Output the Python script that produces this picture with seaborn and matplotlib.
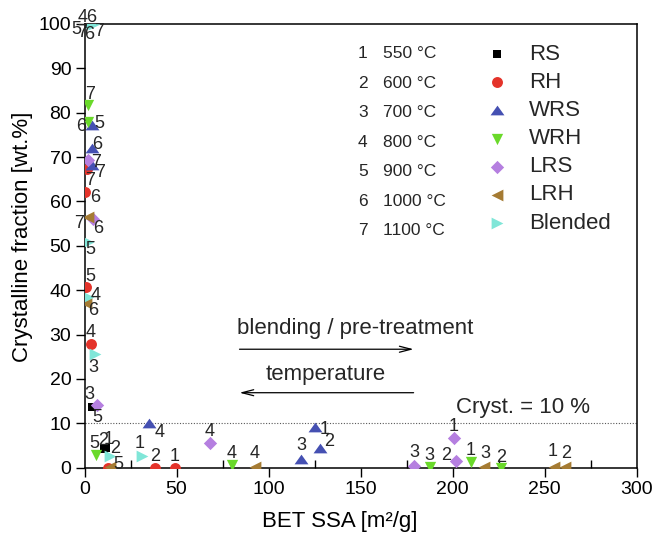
import matplotlib
matplotlib.use("Agg")
import matplotlib.pyplot as plt
import seaborn as sns
import pandas as pd

# ---------------- data ----------------
temps = ['550 °C', '600 °C', '700 °C', '800 °C', '900 °C', '1000 °C', '1100 °C']
temp_ids = [1, 2, 3, 4, 5, 6, 7]
series = ['RS', 'RH', 'WRS', 'WRH', 'LRS', 'LRH', 'Blended']

RS_x = [11.5, 10.5, 3.9, 0.3, 0.0, 1.0, 0.5]
RS_y = [4.5, 4.3, 13.7, 100, 100, 100, 100]
RH_x = [49.1, 38.3, 12.8, 3.4, 0.8, 0.5, 1.4]
RH_y = [0.0, 0.0, 0.0, 27.9, 40.8, 62.1, 67.3]
WRS_x = [125.0, 127.8, 117.8, 35.0, 4.0, 3.9, 3.9]
WRS_y = [9.2, 4.4, 2.0, 10.0, 77.2, 72.0, 68.2]
WRH_x = [210.0, 226.4, 187.5, 79.9, 6.0, 2.0, 1.9]
WRH_y = [1.2, 0.0, 0.1, 0.7, 2.9, 78.0, 81.8]
LRS_x = [201.0, 202.0, 179.0, 68.1, 6.6, 4.6, 1.9]
LRS_y = [6.6, 1.4, 0.4, 5.5, 14.1, 56.0, 69.3]
LRH_x = [255.3, 261.3, 217.3, 92.5, 13.8, 1.0, 1.9]
LRH_y = [0.2, 0.2, 0.2, 0.2, 0.2, 37.1, 56.5]
Blended_x = [31.0, 13.8, 5.7, 1.9, 1.9, 3.9, 5.0]
Blended_y = [2.6, 2.6, 25.6, 38.5, 50.8, 100, 100]

xs = [RS_x, RH_x, WRS_x, WRH_x, LRS_x, LRH_x, Blended_x]
ys = [RS_y, RH_y, WRS_y, WRH_y, LRS_y, LRH_y, Blended_y]

# ---------------- styles / layout ----------------
colors = {'RS': '#000000', 'RH': '#e4332a', 'WRS': '#4550b2', 'WRH': '#6ad92a',
          'LRS': '#b57fe0', 'LRH': '#a57b33', 'Blended': '#80e6d8'}
wide_up = [(-1.0, -0.7), (1.0, -0.7), (0.0, 0.7)]
markers = {'RS': 's', 'RH': 'o', 'WRS': wide_up, 'WRH': 'v',
           'LRS': 'D', 'LRH': '<', 'Blended': '>'}
sizes = {'RS': 40, 'RH': 62, 'WRS': 100, 'WRH': 66, 'LRS': 46, 'LRH': 72, 'Blended': 72}

# label offsets in screen pixels (dx, dy downwards); None = hidden
offsets = {
    'RS': [(3, -8), (-1, -8), (-2, -12), (-2, -6), (-8, 6), (3, 11), (-3, 9)],
    'RH': [(0, -11), (0, -11), None, (0, -11), (4, -10), (10, 5), (3, 11)],
    'WRS': [(10, 3), (9, -7), (0, -13), (11, 9), (7, -2), (6, -4), (8, 7)],
    'WRH': [(0, -12), (0, -10), (0, -12), (0, -11), (-1, -11), (-7, 5), (2, -10)],
    'LRS': [(-1, -12), (-10, -6), (0, -13), (0, -12), (1, 12), (5, 9), (8, 2)],
    'LRH': [(-2, -15), (1, -13), (1, -13), (0, -13), (8, -2), (7, 7), (-9, 6)],
    'Blended': [(-2, -13), (5, -8), (-2, 13), (8, -1), (2, 7), (0, -6), (5, 8)],
}

rows = []
for s, xv, yv in zip(series, xs, ys):
    for t, x, y in zip(temp_ids, xv, yv):
        rows.append({'series': s, 'T': t, 'BET': x, 'cryst': y})
df = pd.DataFrame(rows)

sns.set_theme(style='ticks')
plt.rcParams['font.family'] = ['Liberation Sans', 'DejaVu Sans']

W, H = 654, 538
fig = plt.figure(figsize=(W / 100, H / 100), dpi=100)
L, R, T, B = 84.5, 636.7, 24.0, 467.7
ax = fig.add_axes([L / W, 1 - B / H, (R - L) / W, (B - T) / H])

for s in series:
    sub = df[df['series'] == s]
    sns.scatterplot(data=sub, x='BET', y='cryst', ax=ax, color=colors[s],
                    marker=markers[s], s=sizes[s], linewidth=0, legend=False,
                    zorder=3)

for s in series:
    sub = df[df['series'] == s]
    for (x, y, t), off in zip(sub[['BET', 'cryst', 'T']].values, offsets[s]):
        if off is None:
            continue
        ax.annotate(str(int(t)), (x, y), xytext=(off[0], -off[1]),
                    textcoords='offset pixels', ha='center', va='center',
                    fontsize=13, annotation_clip=False, zorder=4)

ax.set_xlim(0, 300)
ax.set_ylim(0, 100)
ax.set_xticks(range(0, 301, 50))
ax.set_xticks(range(25, 300, 50), minor=True)
ax.set_yticks(range(0, 101, 10))
ax.tick_params(axis='both', which='major', direction='out', length=6.5,
               width=1, labelsize=14, pad=3, color='black', labelcolor='black')
ax.tick_params(axis='x', which='minor', direction='in', length=6, width=1,
               color='black')
for sp in ax.spines.values():
    sp.set_visible(True)
    sp.set_color('black')
    sp.set_linewidth(1.1)

ax.set_xlabel('BET SSA [m²/g]', fontsize=16, color='black')
ax.set_ylabel('Crystalline fraction [wt.%]', fontsize=16, color='black')
ax.xaxis.set_label_coords(0.463, -0.097)
ax.yaxis.set_label_coords(-0.094, 0.52)

# threshold line
ax.axhline(10, ls=(0, (1, 1.5)), color='0.35', lw=0.8, zorder=1)
ax.text(202, 12.3, 'Cryst. = 10 %', fontsize=16, ha='left', va='baseline')

# arrows
ax.text(82.7, 30.1, 'blending / pre-treatment', fontsize=16, ha='left', va='baseline')
ax.annotate('', xy=(180.3, 26.7), xytext=(82.7, 26.7),
            arrowprops=dict(arrowstyle='->,head_length=0.7,head_width=0.18',
                            color='black', lw=0.9))
ax.text(98.5, 19.8, 'temperature', fontsize=16, ha='left', va='baseline')
ax.annotate('', xy=(82.7, 16.9), xytext=(180.3, 16.9),
            arrowprops=dict(arrowstyle='->,head_length=0.7,head_width=0.18',
                            color='black', lw=0.9))

# temperature key
def fx(px):
    return (px - L) / (R - L)

def fy(py):
    return (B - py) / (B - T)

for i, (n, lab) in enumerate(zip(temp_ids, temps)):
    yy = fy(54 + 29.45 * i)
    ax.text(fx(362.7), yy, str(n), transform=ax.transAxes, fontsize=12.5,
            ha='center', va='center')
    ax.text(fx(383), yy, lab, transform=ax.transAxes, fontsize=12.5,
            ha='left', va='center')

# series key
for i, s in enumerate(series):
    yy = fy(54 + 28.2 * i)
    ax.scatter([fx(496.7)], [yy], transform=ax.transAxes, marker=markers[s],
               s=sizes[s], color=colors[s], linewidths=0, clip_on=False)
    ax.text(fx(529), yy, s, transform=ax.transAxes, fontsize=16,
            ha='left', va='center')

fig.savefig('out.png', dpi=100)
